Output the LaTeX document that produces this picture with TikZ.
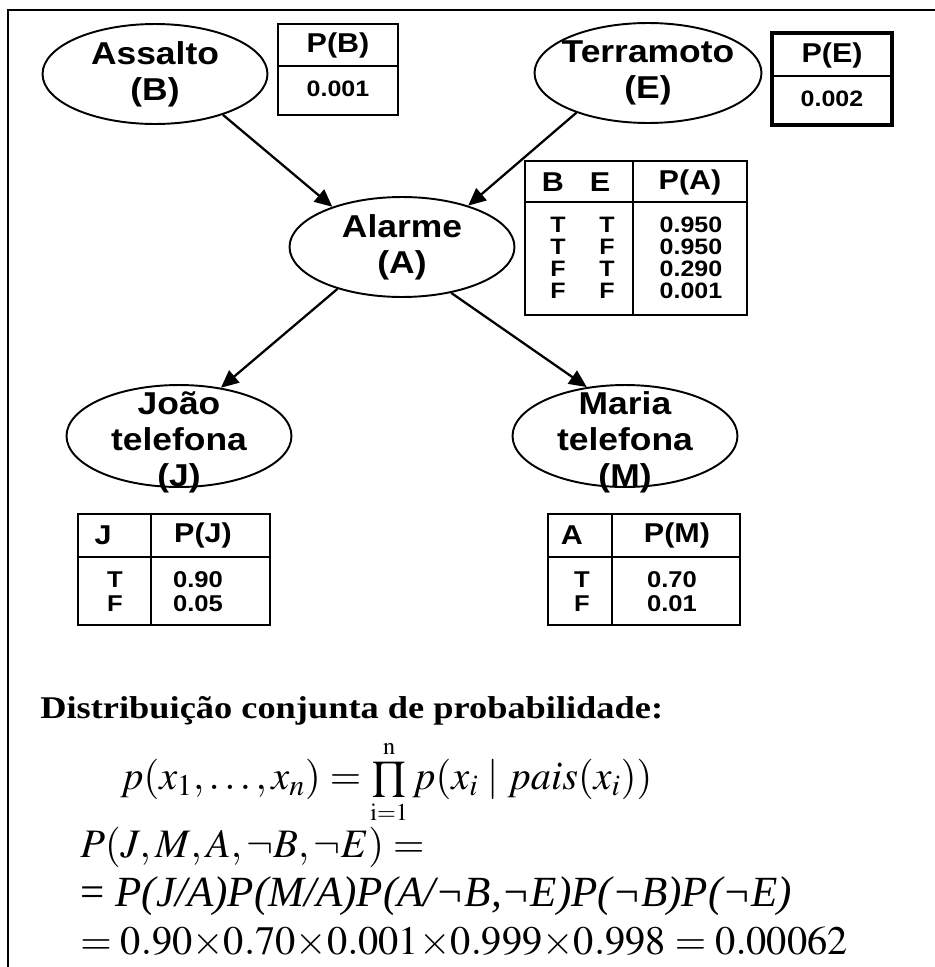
\documentclass[tikz,border=0pt]{standalone}
\usepackage{mathptmx}
\usepackage[no-math]{fontspec}
\setmainfont{Liberation Serif}
\newfontfamily\lblfont{Liberation Sans}[FakeStretch=1.12]
\newfontfamily\titlefont{Liberation Serif}[FakeStretch=1.15]
\usetikzlibrary{arrows.meta,shapes.geometric}

\begin{document}
\begin{tikzpicture}[
    x=0.02cm, y=-0.02cm,
    varnode/.style={
        draw,
        ellipse,
        line width=1.1pt,
        inner sep=-15pt,
        align=center,
        font=\lblfont\bfseries\fontsize{18}{20.5}\selectfont,
        minimum width=4.5cm,
        minimum height=2cm
    },
    cpt/.style={draw, line width=1.1pt},
    cpthead/.style={inner sep=0pt, font=\lblfont\bfseries\fontsize{15.5}{17}\selectfont},
    cptval/.style={inner sep=0pt, font=\lblfont\bfseries\fontsize{12.7}{14}\selectfont},
    cptvalbig/.style={inner sep=0pt, font=\lblfont\bfseries\fontsize{13}{14}\selectfont},
    influence/.style={-{Triangle[length=10pt,width=9pt]}, line width=1.3pt},
    formula/.style={anchor=west, inner sep=0pt, font=\fontsize{23}{28}\selectfont}
]
\useasboundingbox (0,0) rectangle (935,967);

% frame
\draw[line width=1.7pt] (8,967) -- (8,10) -- (935,10);

% variables
\node[varnode] (B) at (155,74) {Assalto\\(B)};
\node[varnode, minimum width=4.54cm] (E) at (648,73) {Terramoto\\(E)};
\node[varnode] (A) at (402,247) {Alarme\\(A)};
\node[varnode, minimum height=2.04cm] (J) at (179,436) {\rule{0pt}{20pt}João\\telefona\\(J)};
\node[varnode, minimum height=2.04cm] (M) at (625,436) {\rule{0pt}{20pt}Maria\\telefona\\(M)};

\draw[influence] (B.-31) -- (A.150);
\draw[influence] (E.-151) -- (A.32);
\draw[influence] (A.-147) -- (J.49);
\draw[influence] (A.-43) -- (M.128);

% P(B)
\draw[cpt] (278,24) rectangle (398,115);
\draw[cpt] (278,66) -- (398,66);
\node[cpthead] (pb) at (338,45) {P(B)};
\node[cptval] (pb1) at (338,89) {0.001};

% P(E)
\draw[cpt, line width=2pt] (772,33) rectangle (892,125);
\draw[cpt] (772,76) -- (892,76);
\node[cpthead] (pe) at (832,55) {P(E)};
\node[cptval] (pe1) at (832,99) {0.002};

% P(A)
\draw[cpt] (525,161) rectangle (747,315);
\draw[cpt] (525,202) -- (747,202);
\draw[cpt] (633,161) -- (633,315);
\node[cpthead] (ab) at (553,182) {B};
\node[cpthead] (ae) at (600,182) {E};
\node[cpthead] (pa) at (690,182) {P(A)};
\node[cptval] (ab1) at (558,225) {T};
\node[cptval] (ae1) at (607,225) {T};
\node[cptval] (pa1) at (691,225) {0.950};
\node[cptval] (ab2) at (558,247) {T};
\node[cptval] (ae2) at (607,247) {F};
\node[cptval] (pa2) at (691,247) {0.950};
\node[cptval] (ab3) at (558,269) {F};
\node[cptval] (ae3) at (607,269) {T};
\node[cptval] (pa3) at (691,269) {0.290};
\node[cptval] (ab4) at (558,291) {F};
\node[cptval] (ae4) at (607,291) {F};
\node[cptval] (pa4) at (691,291) {0.001};

% P(J)
\draw[cpt] (78,514) rectangle (270,625);
\draw[cpt] (78,557) -- (270,557);
\draw[cpt] (151,514) -- (151,625);
\node[cpthead] (ja) at (103,535) {J};
\node[cpthead] (pj) at (203,535) {P(J)};
\node[cptvalbig] (ja1) at (115,580) {T};
\node[cptvalbig] (pj1) at (198,580) {0.90};
\node[cptvalbig] (ja2) at (115,604) {F};
\node[cptvalbig] (pj2) at (198,604) {0.05};

% P(M)
\draw[cpt] (548,514) rectangle (740,625);
\draw[cpt] (548,557) -- (740,557);
\draw[cpt] (612,514) -- (612,625);
\node[cpthead] (ma) at (572,535) {A};
\node[cpthead] (pm) at (677,535) {P(M)};
\node[cptvalbig] (ma1) at (582,580) {T};
\node[cptvalbig] (pm1) at (672,580) {0.70};
\node[cptvalbig] (ma2) at (582,604) {F};
\node[cptvalbig] (pm2) at (672,604) {0.01};

% joint distribution
\node[anchor=west, inner sep=0pt, font=\titlefont\bfseries\fontsize{18}{21}\selectfont] (title) at (40,711)
    {Distribuição conjunta de probabilidade:};
\node[formula] (joint) at (120,782)
    {$p(x_1,\ldots,x_n)=\prod\limits_{\scriptscriptstyle\mathrm{i=1}}^{\scriptscriptstyle\mathrm{n}}p(x_i\mid pais(x_i))$};
\node[formula] (jmabe) at (80,847) {$P(J,M,A,\neg B,\neg E)=$};
\node[formula, font=\fontsize{24.5}{29}\selectfont] (chain) at (80,896)
    {= \textit{P(J/A)P(M/A)P(A/¬B,¬E)P(¬B)P(¬E)}};
\node[formula] (value) at (80,942)
    {$=0.90{\times}0.70{\times}0.001{\times}0.999{\times}0.998=0.00062$};

\end{tikzpicture}
\end{document}
